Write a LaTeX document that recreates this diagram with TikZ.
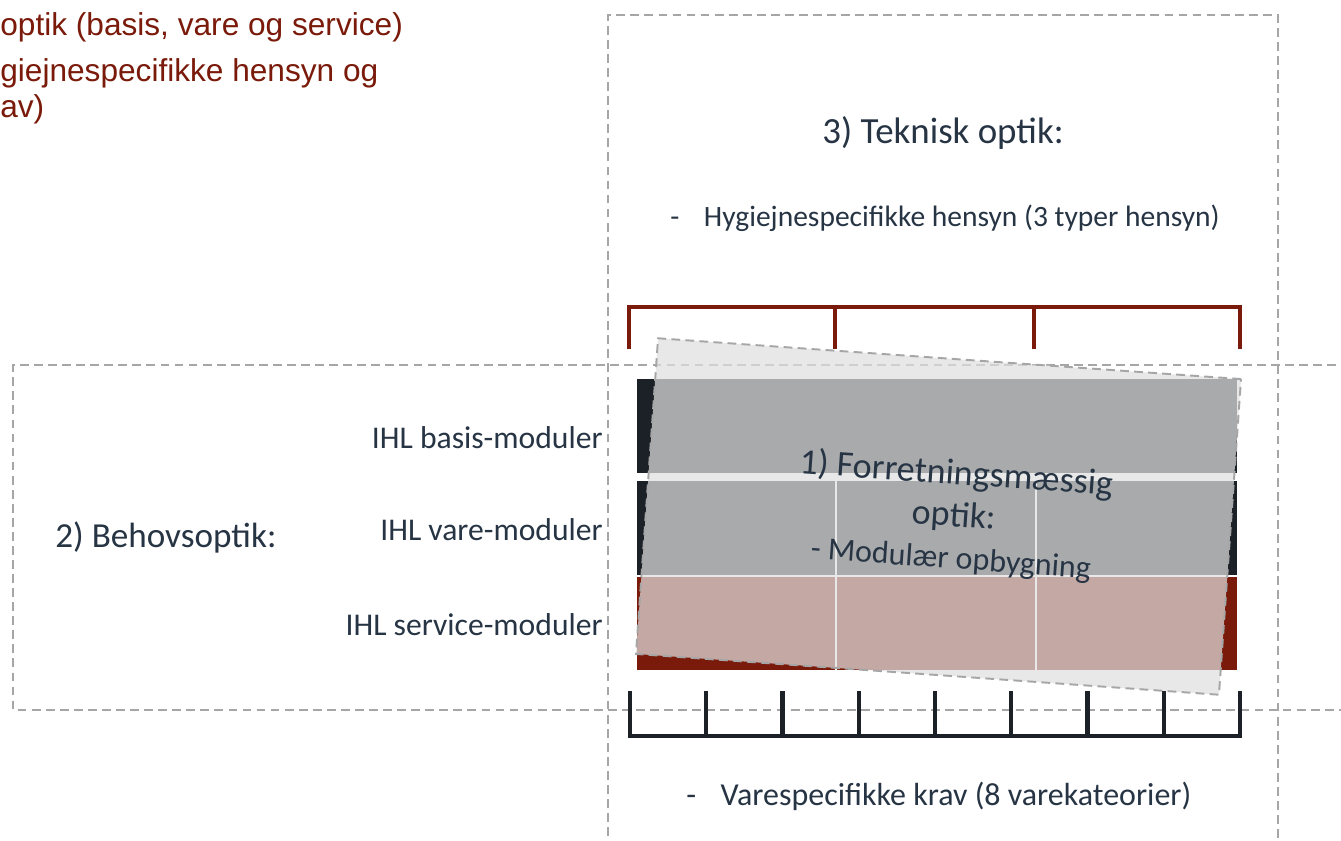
\documentclass[tikz,border=0pt]{standalone}
\usepackage{fontspec}
\setmainfont{Carlito}
\newfontfamily\arialfont{Liberation Sans}
\definecolor{txt}{HTML}{263444}
\definecolor{dred}{HTML}{7A1A0A}
\definecolor{dark}{HTML}{1C2128}
\definecolor{dashgray}{HTML}{A6A6A6}
\definecolor{ovl}{HTML}{E0E0E0}
\begin{document}
\begin{tikzpicture}[x=0.02cm,y=-0.02cm,
  dashbox/.style={draw=dashgray, line width=1.1pt, dash pattern=on 5pt off 3pt},
  bracketred/.style={draw=dred, line width=2.4pt, line join=miter},
  bracketblk/.style={draw=dark, line width=2.4pt, line join=miter},
  lbl/.style={text=txt, inner sep=0pt, font=\fontsize{18}{21}\selectfont},
  big/.style={text=txt, inner sep=0pt, font=\fontsize{20.5}{23}\selectfont},
  small/.style={text=txt, inner sep=0pt, font=\fontsize{16.8}{20}\selectfont},
  redtxt/.style={text=dred, inner sep=0pt, anchor=west, font=\arialfont\fontsize{18}{21}\selectfont},
  cell/.style={inner sep=0pt, outer sep=0pt, draw=none, minimum width=12cm},
  gridline/.style={draw=white, line width=1.3pt},
  overlay/.style={fill=ovl, fill opacity=0.72, draw=dashgray, draw opacity=1, line width=1.1pt,
    dash pattern=on 5pt off 3pt, rotate=-4, minimum width=11.69cm, minimum height=6.33cm, inner sep=0pt}
]
\clip (0,0) rectangle (1341,841);
\fill[white] (0,0) rectangle (1341,841);

% red text top left
\node[redtxt] (r1) at (0,27) {optik (basis, vare og service)};
\node[redtxt] (r2) at (0,73) {giejnespecifikke hensyn og};
\node[redtxt] (r3) at (0,109) {av)};

% dashed frames
\draw[dashbox] (1350,365) -- (13,365) -- (13,710) -- (1350,710);
\draw[dashbox] (608,850) -- (608,15) -- (1278,15) -- (1278,850);

% texts
\node[big, font=\fontsize{21}{24}\selectfont] (t3) at (943,133) {3) Teknisk optik:};
\node[small, anchor=west] (th) at (670,218) {-\hspace{14pt}Hygiejnespecifikke hensyn (3 typer hensyn)};
\node[small, anchor=west, font=\fontsize{18.2}{21}\selectfont] (tv) at (686,796) {-\hspace{14pt}Varespecifikke krav (8 varekateorier)};
\node[big, anchor=west, font=\fontsize{20}{23}\selectfont] (t2) at (55,537) {2) Behovsoptik:};
\node[lbl, anchor=east] (l1) at (603,438) {IHL basis-moduler};
\node[lbl, anchor=east] (l2) at (603,530) {IHL vare-moduler};
\node[lbl, anchor=east] (l3) at (603,625) {IHL service-moduler};

% top red bracket
\draw[bracketred] (629,349) -- (629,307) -- (1240,307) -- (1240,349);
\draw[bracketred] (835,307) -- (835,349);
\draw[bracketred] (1034,307) -- (1034,349);

% bottom black bracket
\draw[bracketblk] (630,691) -- (630,736) -- (1240,736) -- (1240,691);
\foreach \k in {1,...,7}{
  \draw[bracketblk] ({630+76.25*\k},736) -- ({630+76.25*\k},691);
}

% grid
\node[cell, fill=dark, minimum height=1.88cm] (row1) at (937,426) {};
\node[cell, fill=dark, minimum height=1.88cm] (row2) at (937,528) {};
\node[cell, fill=dred, minimum height=1.88cm] (row3) at (937,623.5) {};
\draw[gridline] (637,576) -- (1237,576);
\draw[gridline] (836,481) -- (836,670);
\draw[gridline] (1036,481) -- (1036,670);

% rotated overlay
\node[overlay] (ov) at (938.5,516.5) {};
\node[big, rotate=-4, align=center] (t1) at (954,516)
  {1) Forretningsmæssig\\[1pt]optik:\\[1pt]{\fontsize{18.2}{21}\selectfont - Modulær opbygning}};
\end{tikzpicture}
\end{document}
